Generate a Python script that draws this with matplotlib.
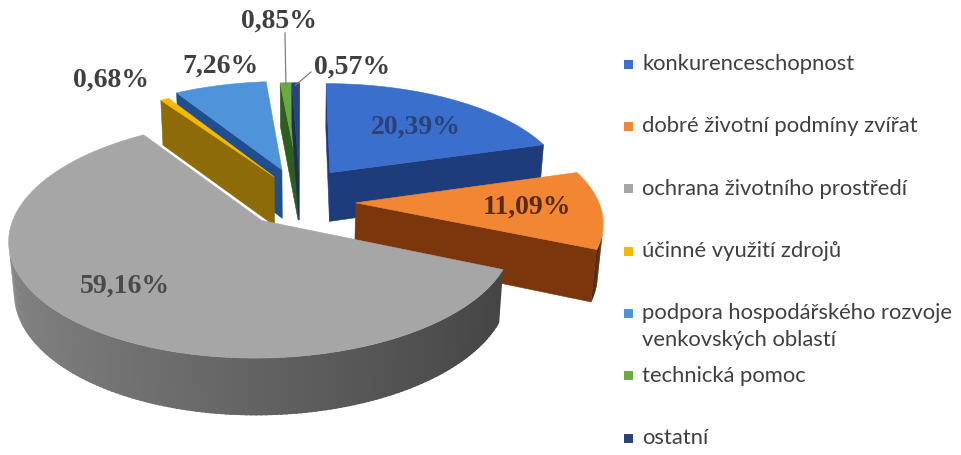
import numpy as np
import matplotlib.pyplot as plt
from matplotlib.patches import Polygon, Rectangle
from matplotlib.colors import to_rgb

categories = ['konkurenceschopnost', 'dobré životní podmíny zvířat', 'ochrana životního prostředí',
              'účinné využití zdrojů', 'podpora hospodářského rozvoje\nvenkovských oblastí',
              'technická pomoc', 'ostatní']
shares = [20.39, 11.09, 59.16, 0.68, 7.26, 0.85, 0.57]
value_labels = ['20,39%', '11,09%', '59,16%', '0,68%', '7,26%', '0,85%', '0,57%']

top_colors = ['#3b6fcd', '#f28633', '#a6a6a6', '#f7b900', '#4f93da', '#6aaa40', '#27457c']
wall_colors = ['#1e3c7c', '#7c360b', '#6e6e6e', '#8c6b08', '#1f4f8e', '#2f5d1f', '#1b2f56']
label_colors = ['#2a4275', '#5c2a08', '#4a4a4a', '#404040', '#404040', '#404040', '#404040']

# how far each slice is pulled out (in radii) and how much the pull is turned off its bisector
explode = [0.272, 0.233, 0.252, 0.228, 0.279, 0.253, 0.251]
explode_turn = [8.5, -7.5, 2.4, -3.6, -2, -1.7, 0]

# label anchor points (pixels)
label_pos = [(416, 127), (527, 207), (125, 286), (111, 80), (220, 66), (279, 21), (352, 67)]

# view of the 3d pie
TILT = np.arcsin(0.4526)
CAM = 5.95
SCALE = 241.7
CX, CY = 300, 198
DEPTH = 0.236


def project(u, v, z):
    up = v * np.sin(TILT) + z * np.cos(TILT)
    d = v * np.cos(TILT) - z * np.sin(TILT)
    s = CAM / (CAM + d)
    return CX + SCALE * u * s, CY - SCALE * up * s


def facing(pu, pv, nx, ny):
    # camera sits at (0, -CAM*cos, CAM*sin); vertical faces only
    return -pu * nx + (-CAM * np.cos(TILT) - pv) * ny > 0


def shade(color, k):
    return tuple(np.clip(np.array(to_rgb(color)) * k, 0, 1))


fr = np.array(shares) / sum(shares)
bounds = 90 - 360 * np.concatenate([[0], np.cumsum(fr)])


def offset(i):
    hi, lo = bounds[i], bounds[i + 1]
    m = np.radians((hi + lo) / 2 + explode_turn[i])
    return explode[i] * np.cos(m), explode[i] * np.sin(m)


def poly(ax, pts, color, lw=0.4):
    xs, ys = zip(*[project(*p) for p in pts])
    ax.add_patch(Polygon(np.column_stack([xs, ys]), closed=True, facecolor=color,
                         edgecolor=color if lw else 'none', linewidth=lw))


def draw_slice(ax, i):
    hi, lo = bounds[i], bounds[i + 1]
    ou, ov = offset(i)
    # side walls along the two radii
    for a, n in ((hi, hi + 90), (lo, lo - 90)):
        ar, nr = np.radians(a), np.radians(n)
        if facing(ou + 0.5 * np.cos(ar), ov + 0.5 * np.sin(ar), np.cos(nr), np.sin(nr)):
            eu, ev = ou + np.cos(ar), ov + np.sin(ar)
            poly(ax, [(ou, ov, 0), (eu, ev, 0), (eu, ev, -DEPTH), (ou, ov, -DEPTH)],
                 wall_colors[i])
    # curved outer wall, shaded from left to right; pieces overlap a little to hide seams
    th = np.radians(np.linspace(hi, lo, max(int(abs(hi - lo)), 2) + 1))
    step = th[1] - th[0]
    for t0, t1 in zip(th[:-1], th[1:]):
        tm = (t0 + t1) / 2
        if facing(ou + np.cos(tm), ov + np.sin(tm), np.cos(tm), np.sin(tm)):
            k = 1.2 - 0.3 * (np.cos(tm) + 1)
            t1x = t1 + 0.6 * step if t1 != th[-1] else t1
            arc = np.linspace(t0, t1x, 3)
            top = [(ou + np.cos(t), ov + np.sin(t), 0) for t in arc]
            bot = [(ou + np.cos(t), ov + np.sin(t), -DEPTH) for t in arc[::-1]]
            poly(ax, top + bot, shade(wall_colors[i], k), lw=0)
    # top face
    pts = [(ou, ov, 0)] + [(ou + np.cos(t), ov + np.sin(t), 0) for t in th]
    poly(ax, pts, top_colors[i])


fig = plt.figure(figsize=(9.61, 4.55), dpi=100)
ax = fig.add_axes([0, 0, 1, 1])
ax.set_xlim(0, 961)
ax.set_ylim(455, 0)
ax.axis('off')


def depth(i):
    ou, ov = offset(i)
    m = np.radians((bounds[i] + bounds[i + 1]) / 2)
    return ov + 0.5 * np.sin(m)


for i in sorted(range(len(shares)), key=depth, reverse=True):
    draw_slice(ax, i)

# value labels
for i, (x, y) in enumerate(label_pos):
    ax.text(x, y, value_labels[i], ha='center', va='center', fontsize=20,
            family='Liberation Serif', weight='bold', color=label_colors[i])

# leader lines for the two thinnest top slices
for i, end in ((5, (285, 33)), (6, (311, 72))):
    ou, ov = offset(i)
    m = np.radians((bounds[i] + bounds[i + 1]) / 2)
    sx, sy = project(ou + 0.97 * np.cos(m), ov + 0.97 * np.sin(m), 0)
    ax.plot([sx, end[0]], [sy, end[1]], color='#7f7f7f', lw=0.9)

# legend
legend_y = np.linspace(64, 438, len(categories))
for i, (name, y) in enumerate(zip(categories, legend_y)):
    ax.add_patch(Rectangle((624, y - 4.5), 9, 9, facecolor=top_colors[i], edgecolor='none'))
    for j, line in enumerate(name.split('\n')):
        ax.text(642, y + 27 * j, line, ha='left', va='center', fontsize=15.8,
                family='Lato', color='#404040')

fig.savefig('out.png', dpi=100, facecolor='white')
